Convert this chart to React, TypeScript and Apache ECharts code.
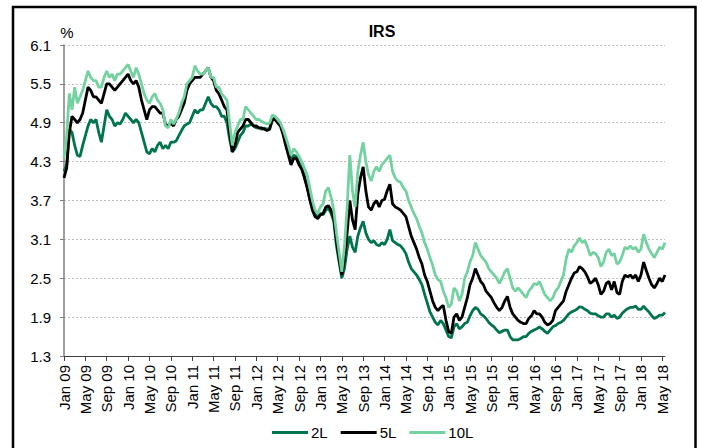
import React, { useEffect, useRef } from "react";
import * as echarts from "echarts";

const START_YEAR = 2009;
const MONTH_NAMES = ["Jan", "Feb", "Mar", "Apr", "May", "Jun", "Jul", "Aug", "Sep", "Oct", "Nov", "Dec"];
const Y_TICKS = { min: 1.3, max: 6.1, step: 0.6 };
const SERIES_NAMES = ["2L", "5L", "10L"];

// half-monthly readings, Jan 2009 .. Jun 2018
const s2L = [
  4.15, 4.25, 4.8, 4.75, 4.55, 4.4, 4.38, 4.55, 4.7, 4.85,
  4.95, 4.9, 4.95, 4.75, 4.6, 4.85, 5.1, 5.0, 4.95, 4.85,
  4.9, 4.88, 4.95, 5.05, 5.0, 4.95, 4.9, 4.95, 4.9, 4.75,
  4.6, 4.45, 4.42, 4.5, 4.45, 4.55, 4.6, 4.5, 4.55, 4.5,
  4.6, 4.6, 4.62, 4.7, 4.78, 4.85, 4.88, 4.9, 5.0, 5.1,
  5.05, 5.1, 5.1, 5.2, 5.3, 5.2, 5.15, 5.15, 5.1, 5.0,
  5.0, 4.9, 4.65, 4.45, 4.5, 4.6, 4.7, 4.75, 4.85, 4.85,
  4.88, 4.85, 4.82, 4.82, 4.8, 4.82, 4.8, 4.82, 4.95, 4.98,
  4.95, 4.88, 4.78, 4.62, 4.45, 4.32, 4.4, 4.38, 4.28, 4.2,
  4.08, 3.92, 3.72, 3.58, 3.48, 3.45, 3.5, 3.48, 3.55, 3.58,
  3.5, 3.38, 3.0, 2.75, 2.5, 2.65, 2.95, 3.15, 2.98, 2.9,
  3.15, 3.28, 3.38, 3.2, 3.1, 3.05, 3.08, 3.02, 3.0, 3.05,
  3.02, 3.1, 3.25, 3.08, 3.05, 3.02, 3.0, 2.95, 2.88, 2.75,
  2.65, 2.6, 2.55, 2.48, 2.4, 2.25, 2.12, 1.98, 1.9, 1.82,
  1.78, 1.85, 1.8, 1.7, 1.6, 1.58, 1.75, 1.8, 1.72, 1.75,
  1.8, 1.82, 1.92, 2.0, 2.05, 2.02, 1.95, 1.92, 1.88, 1.82,
  1.78, 1.75, 1.7, 1.66, 1.68, 1.7, 1.7, 1.6, 1.55, 1.55,
  1.55, 1.57, 1.6, 1.6, 1.65, 1.68, 1.7, 1.72, 1.75, 1.72,
  1.68, 1.65, 1.7, 1.75, 1.77, 1.8, 1.82, 1.85, 1.9, 1.95,
  1.98, 2.0, 2.02, 2.06, 2.05, 2.02, 2.0, 1.96, 1.95, 1.95,
  1.92, 1.9, 1.9, 1.95, 1.95, 1.9, 1.93, 1.88, 1.9, 1.96,
  2.0, 2.03, 2.05, 2.05, 2.07, 2.02, 2.02, 2.07, 2.02, 1.98,
  1.92, 1.88, 1.9, 1.93, 1.93, 1.97,
];

const s5L = [
  4.05, 4.2, 4.75, 5.0, 4.95, 4.9, 4.95, 5.05, 5.25, 5.45,
  5.4, 5.3, 5.3, 5.25, 5.2, 5.35, 5.5, 5.5, 5.45, 5.4,
  5.45, 5.5, 5.55, 5.6, 5.65, 5.55, 5.5, 5.55, 5.45, 5.25,
  5.1, 4.95, 5.1, 5.15, 5.15, 5.1, 5.05, 5.05, 4.88, 4.85,
  4.9, 4.85, 4.95, 5.0, 5.1, 5.2, 5.4, 5.5, 5.55, 5.6,
  5.6, 5.6, 5.65, 5.7, 5.75, 5.6, 5.55, 5.4, 5.35, 5.25,
  5.15, 5.1, 4.75, 4.45, 4.55, 4.75, 4.8, 4.85, 4.95, 4.95,
  4.9, 4.85, 4.85, 4.82, 4.82, 4.8, 4.78, 4.8, 4.95, 4.95,
  4.9, 4.85, 4.72, 4.55, 4.4, 4.25, 4.35, 4.35, 4.25, 4.18,
  4.05, 3.9, 3.72, 3.55, 3.45, 3.42, 3.48, 3.5, 3.6, 3.62,
  3.55, 3.42, 3.08, 2.8, 2.55, 2.8, 3.2, 3.7, 3.4, 3.25,
  3.8, 4.05, 4.22, 3.85, 3.6, 3.55, 3.65, 3.7, 3.6, 3.7,
  3.72, 3.85, 3.95, 3.65, 3.6, 3.58, 3.55, 3.5, 3.45, 3.3,
  3.15, 3.05, 2.95, 2.82, 2.72, 2.55, 2.45, 2.3, 2.15, 2.05,
  2.0, 2.05, 2.08, 1.85, 1.68, 1.65, 1.9, 1.95, 1.85, 1.9,
  2.05, 2.2, 2.4, 2.5, 2.65, 2.55, 2.45, 2.4, 2.3, 2.25,
  2.2, 2.12, 2.05, 2.0, 2.05, 2.15, 2.22, 2.05, 1.95, 1.9,
  1.85, 1.82, 1.8, 1.8, 1.88, 1.92, 2.0, 1.95, 1.95, 1.9,
  1.82, 1.78, 1.8, 1.85, 2.0, 2.05, 2.1, 2.15, 2.3, 2.4,
  2.5, 2.58, 2.6, 2.68, 2.65, 2.6, 2.52, 2.42, 2.45, 2.5,
  2.4, 2.25, 2.3, 2.42, 2.45, 2.32, 2.45, 2.28, 2.25, 2.45,
  2.55, 2.52, 2.55, 2.5, 2.55, 2.45, 2.55, 2.75, 2.62, 2.5,
  2.4, 2.35, 2.42, 2.5, 2.45, 2.55,
];

const s10L = [
  4.35, 4.7, 5.35, 5.1, 5.45, 5.2, 5.3, 5.4, 5.55, 5.7,
  5.6, 5.55, 5.55, 5.45, 5.45, 5.6, 5.7, 5.6, 5.65, 5.55,
  5.65, 5.65, 5.7, 5.75, 5.8, 5.7, 5.6, 5.75, 5.65, 5.5,
  5.35, 5.25, 5.2, 5.3, 5.35, 5.25, 5.2, 5.1, 4.85, 4.82,
  4.95, 4.88, 4.95, 5.05, 5.2, 5.3, 5.5, 5.55, 5.6, 5.78,
  5.7, 5.65, 5.65, 5.7, 5.75, 5.6, 5.6, 5.45, 5.45, 5.35,
  5.3, 5.25, 4.9, 4.55, 4.75, 4.85, 4.95, 4.95, 5.15, 5.1,
  5.05, 5.0, 4.95, 4.95, 4.92, 4.9, 4.88, 4.9, 5.02, 5.0,
  4.95, 4.9, 4.8, 4.68, 4.55, 4.4, 4.5, 4.45, 4.38, 4.3,
  4.2, 4.1, 3.9, 3.7, 3.55, 3.5, 3.6, 3.65, 3.85, 3.9,
  3.75, 3.55, 3.2, 2.9, 2.6, 3.0, 3.6, 4.4, 3.85, 3.6,
  4.15, 4.4, 4.6, 4.3, 4.1, 4.0, 4.15, 4.22, 4.15, 4.25,
  4.3, 4.35, 4.4, 4.15, 4.05, 4.0, 3.98, 3.9, 3.85, 3.7,
  3.6, 3.5, 3.42, 3.3, 3.2, 3.05, 2.95, 2.82, 2.7, 2.55,
  2.48, 2.45, 2.3, 2.2, 2.05, 2.1, 2.35, 2.3, 2.15, 2.25,
  2.5, 2.6, 2.75, 2.85, 3.05, 2.95, 2.85, 2.8, 2.75, 2.65,
  2.6, 2.55, 2.5, 2.42, 2.5, 2.6, 2.65, 2.5, 2.35, 2.3,
  2.35, 2.3, 2.25, 2.2, 2.3, 2.35, 2.42, 2.4, 2.45, 2.35,
  2.25, 2.2, 2.15, 2.2, 2.3, 2.35, 2.45, 2.55, 2.8, 2.95,
  2.9, 3.0, 3.05, 3.12, 3.05, 3.08, 2.98, 2.85, 2.9, 2.88,
  2.82, 2.68, 2.75, 2.9, 2.95, 2.85, 2.88, 2.72, 2.75, 2.85,
  2.98, 2.95, 3.0, 2.95, 2.98, 2.9, 2.95, 3.18, 3.05, 2.95,
  2.88, 2.82, 2.9, 2.98, 2.95, 3.05,
];

// half-month date categories
const dates: string[] = s2L.map((_, i) => {
  const mIdx = Math.floor(i / 2);
  const y = START_YEAR + Math.floor(mIdx / 12);
  const mo = mIdx % 12;
  return `${y}-${String(mo + 1).padStart(2, "0")}-${i % 2 ? "16" : "01"}`;
});

const COLORS = ["#00744A", "#000000", "#74D2A0"];
const FONT = "'Liberation Sans', Arial, sans-serif";

const isTickIndex = (i: number) => i % 8 === 0;

const fmtDate = (v: string) => {
  const [y, m] = v.split("-");
  return `${MONTH_NAMES[parseInt(m, 10) - 1]} ${y.slice(2)}`;
};

export default function App() {
  const ref = useRef<HTMLDivElement>(null);
  useEffect(() => {
    if (!ref.current) return;
    const chart = echarts.init(ref.current, null, { renderer: "svg" });
    const seriesData = [s2L, s5L, s10L];
    chart.setOption({
      animation: false,
      backgroundColor: "#ffffff",
      textStyle: { fontFamily: FONT },
      grid: { left: 64, right: 37, top: 45, bottom: 92, containLabel: false },
      graphic: [
        {
          type: "rect",
          shape: { x: 13, y: 7, width: 682.5, height: 480 },
          style: { fill: "none", stroke: "#000", lineWidth: 2.5 },
          silent: true,
        },
        {
          type: "text",
          x: 382,
          y: 31,
          style: {
            text: "IRS",
            font: `bold 16px ${FONT}`,
            fill: "#000",
            textAlign: "center",
            textVerticalAlign: "middle",
          },
        },
        {
          type: "text",
          x: 67,
          y: 32,
          style: {
            text: "%",
            font: `15px ${FONT}`,
            fill: "#000",
            textAlign: "center",
            textVerticalAlign: "middle",
          },
        },
      ],
      legend: {
        data: SERIES_NAMES,
        left: 267,
        top: 420,
        icon: "rect",
        itemWidth: 36,
        itemHeight: 3,
        itemGap: 13,
        textStyle: { fontSize: 15, color: "#000", fontFamily: FONT, padding: [0, 0, 0, -2] },
      },
      xAxis: {
        type: "category",
        data: dates,
        boundaryGap: false,
        axisLine: { show: true, lineStyle: { color: "#404040", width: 1 } },
        axisTick: {
          show: true,
          interval: (i: number) => isTickIndex(i),
          length: 5,
          lineStyle: { color: "#404040" },
        },
        axisLabel: {
          interval: (i: number) => isTickIndex(i),
          rotate: 90,
          margin: 9,
          fontSize: 15,
          color: "#000",
          fontFamily: FONT,
          formatter: (v: string) => fmtDate(v),
        },
        splitLine: { show: false },
      },
      yAxis: {
        type: "value",
        min: Y_TICKS.min,
        max: Y_TICKS.max,
        interval: Y_TICKS.step,
        axisLine: { show: true, lineStyle: { color: "#808080", width: 1.5 } },
        axisTick: { show: true, length: 4, lineStyle: { color: "#808080" } },
        axisLabel: {
          fontSize: 15,
          color: "#000",
          margin: 13,
          fontFamily: FONT,
          formatter: (v: number) => v.toFixed(1),
        },
        splitLine: { show: true, lineStyle: { color: "#c0c0c0", type: [2, 2], width: 1 } },
      },
      series: SERIES_NAMES.map((name, k) => ({
        name,
        type: "line",
        data: seriesData[k],
        showSymbol: false,
        symbol: "none",
        lineStyle: { width: 2.8, color: COLORS[k] },
        itemStyle: { color: COLORS[k] },
      })),
    });
    return () => chart.dispose();
  }, []);
  return (
    <div
      ref={ref}
      style={{ position: "absolute", left: 0, top: 0, width: 702, height: 448 }}
    />
  );
}
